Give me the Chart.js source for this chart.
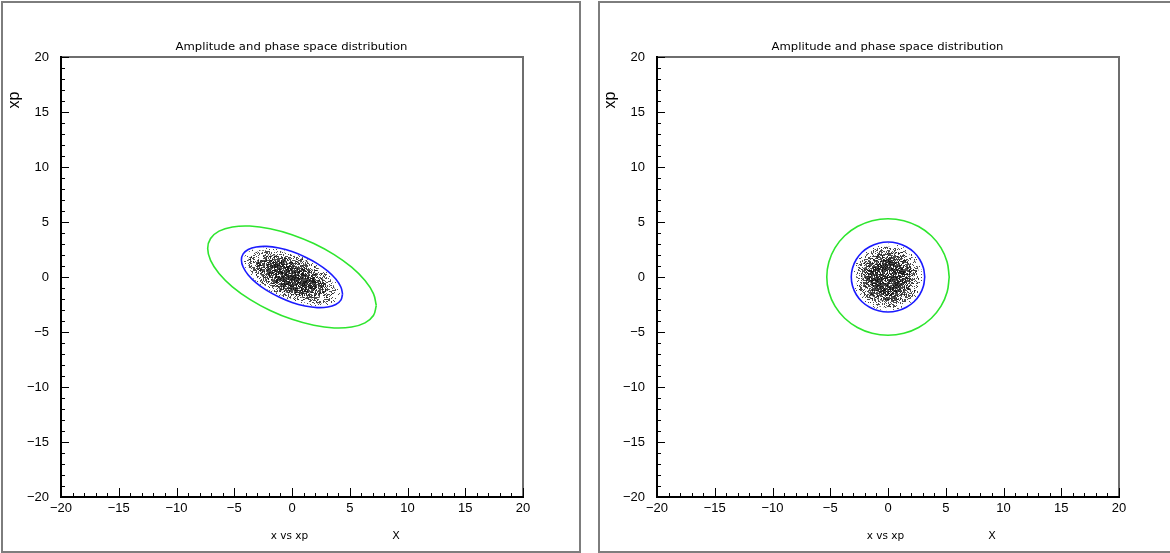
<!DOCTYPE html>
<html><head><meta charset="utf-8">
<script src="https://cdn.jsdelivr.net/npm/chart.js@4.4.1/dist/chart.umd.min.js"></script>
<style>
html,body{margin:0;padding:0;background:#fff;width:1170px;height:553px;overflow:hidden;}
.panel{position:absolute;border:2px solid #7d7d7d;box-sizing:border-box;}
#p1{left:1px;top:1px;width:580px;height:552px;}
#p2{left:598px;top:1px;width:620px;height:552px;}
.cw{position:absolute;top:0;height:553px;}
#c1w{left:0;width:590px;}
#c2w{left:596px;width:574px;}
</style></head>
<body>
<div class="panel" id="p1"></div>
<div class="panel" id="p2"></div>
<div class="cw" id="c1w"><canvas id="c1"></canvas></div>
<div class="cw" id="c2w"><canvas id="c2"></canvas></div>
<script>
// ---- data ----
const titleText = 'Amplitude and phase space distribution';
const xTitle = 'x vs xp';
const xVarLabel = 'X';
const yVarLabel = 'xp';
const axisMin = -20, axisMax = 20;
const majorTickValues = [-20,-15,-10,-5,0,5,10,15,20];
const majorTickLabels = ['\u221220','\u221215','\u221210','\u22125','0','5','10','15','20'];

// left panel: tilted ellipses (x, xp)
const leftGreenX = [7.30,7.05,6.32,5.16,3.65,1.89,0.00,-1.89,-3.65,-5.16,-6.32,-7.05,-7.30,-7.05,-6.32,-5.16,-3.65,-1.89,0.00,1.89,3.65,5.16,6.32,7.05,7.30];
const leftGreenY = [-2.59,-3.50,-4.17,-4.55,-4.63,-4.39,-3.85,-3.04,-2.03,-0.89,0.32,1.51,2.59,3.50,4.17,4.55,4.63,4.39,3.85,3.04,2.03,0.89,-0.32,-1.51,-2.59];
const leftBlueX = [4.38,4.23,3.79,3.10,2.19,1.13,0.00,-1.13,-2.19,-3.10,-3.79,-4.23,-4.38,-4.23,-3.79,-3.10,-2.19,-1.13,0.00,1.13,2.19,3.10,3.79,4.23,4.38];
const leftBlueY = [-1.55,-2.10,-2.50,-2.73,-2.78,-2.63,-2.31,-1.82,-1.22,-0.53,0.19,0.91,1.55,2.10,2.50,2.73,2.78,2.63,2.31,1.82,1.22,0.53,-0.19,-0.91,-1.55];
// left particle cloud density contours (edge, outer, middle, core)
const leftCloudEdgeX = [4.16,3.60,2.08,0.00,-2.08,-3.60,-4.16,-3.60,-2.08,0.00,2.08,3.60,4.16];
const leftCloudEdgeY = [-1.47,-2.38,-2.64,-2.19,-1.16,0.18,1.47,2.38,2.64,2.19,1.16,-0.18,-1.47];
const leftCloudOuterX = [3.80,3.30,1.90,0.00,-1.90,-3.30,-3.80,-3.30,-1.90,0.00,1.90,3.30,3.80];
const leftCloudOuterY = [-1.35,-2.17,-2.42,-2.01,-1.06,0.17,1.35,2.17,2.42,2.01,1.06,-0.17,-1.35];
const leftCloudMidX = [3.07,2.65,1.53,0.00,-1.53,-2.65,-3.07,-2.65,-1.53,0.00,1.53,2.65,3.07];
const leftCloudMidY = [-1.09,-1.75,-1.95,-1.62,-0.85,0.13,1.09,1.75,1.95,1.62,0.85,-0.13,-1.09];
const leftCloudCoreX = [2.19,1.90,1.10,0.00,-1.10,-1.90,-2.19,-1.90,-1.10,0.00,1.10,1.90,2.19];
const leftCloudCoreY = [-0.78,-1.25,-1.39,-1.16,-0.61,0.10,0.78,1.25,1.39,1.16,0.61,-0.10,-0.78];

// right panel: circles (normalised coordinates)
const rightGreenX = [5.30,5.12,4.59,3.75,2.65,1.37,0.00,-1.37,-2.65,-3.75,-4.59,-5.12,-5.30,-5.12,-4.59,-3.75,-2.65,-1.37,0.00,1.37,2.65,3.75,4.59,5.12,5.30];
const rightGreenY = [0.00,1.37,2.65,3.75,4.59,5.12,5.30,5.12,4.59,3.75,2.65,1.37,0.00,-1.37,-2.65,-3.75,-4.59,-5.12,-5.30,-5.12,-4.59,-3.75,-2.65,-1.37,0.00];
const rightBlueX = [3.18,3.07,2.75,2.25,1.59,0.82,0.00,-0.82,-1.59,-2.25,-2.75,-3.07,-3.18,-3.07,-2.75,-2.25,-1.59,-0.82,0.00,0.82,1.59,2.25,2.75,3.07,3.18];
const rightBlueY = [0.00,0.82,1.59,2.25,2.75,3.07,3.18,3.07,2.75,2.25,1.59,0.82,0.00,-0.82,-1.59,-2.25,-2.75,-3.07,-3.18,-3.07,-2.75,-2.25,-1.59,-0.82,0.00];
const rightCloudEdgeX = [3.02,2.62,1.51,0.00,-1.51,-2.62,-3.02,-2.62,-1.51,0.00,1.51,2.62,3.02];
const rightCloudEdgeY = [0.00,1.51,2.62,3.02,2.62,1.51,0.00,-1.51,-2.62,-3.02,-2.62,-1.51,0.00];
const rightCloudOuterX = [2.75,2.38,1.38,0.00,-1.38,-2.38,-2.75,-2.38,-1.38,0.00,1.38,2.38,2.75];
const rightCloudOuterY = [0.00,1.38,2.38,2.75,2.38,1.38,0.00,-1.38,-2.38,-2.75,-2.38,-1.38,0.00];
const rightCloudMidX = [2.20,1.91,1.10,0.00,-1.10,-1.91,-2.20,-1.91,-1.10,0.00,1.10,1.91,2.20];
const rightCloudMidY = [0.00,1.10,1.91,2.20,1.91,1.10,0.00,-1.10,-1.91,-2.20,-1.91,-1.10,0.00];
const rightCloudCoreX = [1.60,1.39,0.80,0.00,-0.80,-1.39,-1.60,-1.39,-0.80,0.00,0.80,1.39,1.60];
const rightCloudCoreY = [0.00,0.80,1.39,1.60,1.39,0.80,0.00,-0.80,-1.39,-1.60,-1.39,-0.80,0.00];

// ---- helpers ----
const pts = (xs, ys) => xs.map((v, i) => ({x: v, y: ys[i]}));
const FONT = '"Liberation Sans", Arial, sans-serif';

// speckle texture (fixed deterministic dither, styling only)
function speckle(density, seed) {
  const n = 128, c = document.createElement('canvas');
  c.width = n; c.height = n;
  const g = c.getContext('2d'), img = g.createImageData(n, n);
  for (let j = 0; j < n; j++) for (let i = 0; i < n; i++) {
    let h = (i * 374761393 + j * 668265263 + seed * 2246822519) >>> 0;
    h = Math.imul(h ^ (h >>> 13), 1274126177) >>> 0;
    h = (h ^ (h >>> 16)) >>> 0;
    if ((h % 1000) / 1000 < density) {
      const k = (j * n + i) * 4;
      img.data[k] = img.data[k + 1] = img.data[k + 2] = 15;
      img.data[k + 3] = 190;
    }
  }
  g.putImageData(img, 0, 0);
  return g.createPattern(c, 'repeat');
}

function curve(xs, ys, color) {
  return {data: pts(xs, ys), showLine: true, borderColor: color, borderWidth: 1.6,
          pointRadius: 0, tension: 0.4, fill: false};
}
function cloud(xs, ys, density, seed) {
  return {data: pts(xs, ys), showLine: true, borderColor: 'rgba(0,0,0,0)', borderWidth: 0,
          backgroundColor: speckle(density, seed), pointRadius: 0, tension: 0.45, fill: 'shape'};
}

const framePlugin = {
  id: 'frame',
  afterDraw(chart) {
    const {ctx, chartArea: a, scales: {x, y}} = chart;
    ctx.save();
    ctx.strokeStyle = '#6e6e6e'; ctx.lineWidth = 2;
    ctx.beginPath();
    ctx.moveTo(a.left, a.top); ctx.lineTo(a.right, a.top); ctx.lineTo(a.right, a.bottom);
    ctx.stroke();
    ctx.strokeStyle = '#000'; ctx.lineWidth = 1;
    ctx.beginPath();
    x.ticks.forEach(t => {
      const px = Math.round(x.getPixelForValue(t.value)) + 0.5;
      const len = majorTickValues.includes(t.value) ? 9 : 4;
      ctx.moveTo(px, a.bottom); ctx.lineTo(px, a.bottom - len);
    });
    y.ticks.forEach(t => {
      const py = Math.round(y.getPixelForValue(t.value)) + 0.5;
      const len = majorTickValues.includes(t.value) ? 8 : 4;
      ctx.moveTo(a.left, py); ctx.lineTo(a.left + len, py);
    });
    ctx.stroke();
    ctx.lineWidth = 2;
    ctx.beginPath();
    ctx.moveTo(a.left, a.top - 1); ctx.lineTo(a.left, a.bottom); ctx.lineTo(a.right + 1, a.bottom);
    ctx.stroke();
    ctx.fillStyle = '#000';
    ctx.textAlign = 'center'; ctx.textBaseline = 'alphabetic';
    const cx = (a.left + a.right) / 2;
    ctx.font = '11px "DejaVu Sans", sans-serif';
    const w = ctx.measureText(titleText).width;
    ctx.save();
    ctx.translate(cx - 0.5, a.top - 7);
    ctx.scale(232 / w, 1);
    ctx.fillText(titleText, 0, 0);
    ctx.restore();
    ctx.font = '10.5px "DejaVu Sans", sans-serif';
    ctx.fillText(xTitle, cx - 2.5, a.bottom + 42);
    ctx.font = '11px "DejaVu Sans", sans-serif';
    ctx.fillText(xVarLabel, cx + 104, a.bottom + 42);
    ctx.save();
    ctx.translate(a.left - 42, a.top + 43);
    ctx.rotate(-Math.PI / 2);
    ctx.font = '16px ' + FONT;
    ctx.fillText(yVarLabel, 0, 0);
    ctx.restore();
    ctx.restore();
  }
};

function labelFor(v) {
  const i = majorTickValues.indexOf(v);
  return i >= 0 ? majorTickLabels[i] : '';
}

function makeChart(id, datasets, padRight) {
  const tickFont = {family: FONT, size: 13};
  return new Chart(document.getElementById(id), {
    type: 'scatter',
    data: {datasets},
    options: {
      responsive: true, maintainAspectRatio: false, animation: false,
      layout: {padding: {left: 0, top: 57, right: padRight, bottom: 0}},
      plugins: {legend: {display: false}, tooltip: {enabled: false}},
      scales: {
        x: {type: 'linear', min: axisMin, max: axisMax,
            ticks: {stepSize: 1, autoSkip: false, maxRotation: 0, color: '#000', font: tickFont, padding: 4,
                    callback: v => labelFor(v)},
            grid: {display: false, drawTicks: false}, border: {display: false},
            afterFit: s => { s.height = 56; }},
        y: {type: 'linear', min: axisMin, max: axisMax,
            ticks: {stepSize: 1, autoSkip: false, color: '#000', font: tickFont, padding: 12,
                    callback: v => labelFor(v)},
            grid: {display: false, drawTicks: false}, border: {display: false},
            afterFit: s => { s.width = 61; }}
      }
    },
    plugins: [framePlugin]
  });
}

makeChart('c1', [
  curve(leftGreenX, leftGreenY, '#2ee62e'),
  curve(leftBlueX, leftBlueY, '#1a1aff'),
  cloud(leftCloudCoreX, leftCloudCoreY, 0.6, 4),
  cloud(leftCloudMidX, leftCloudMidY, 0.45, 3),
  cloud(leftCloudOuterX, leftCloudOuterY, 0.3, 2),
  cloud(leftCloudEdgeX, leftCloudEdgeY, 0.08, 1)
], 67);
makeChart('c2', [
  curve(rightGreenX, rightGreenY, '#2ee62e'),
  curve(rightBlueX, rightBlueY, '#1a1aff'),
  cloud(rightCloudCoreX, rightCloudCoreY, 0.6, 8),
  cloud(rightCloudMidX, rightCloudMidY, 0.45, 7),
  cloud(rightCloudOuterX, rightCloudOuterY, 0.3, 6),
  cloud(rightCloudEdgeX, rightCloudEdgeY, 0.08, 5)
], 51);
</script>
</body></html>
